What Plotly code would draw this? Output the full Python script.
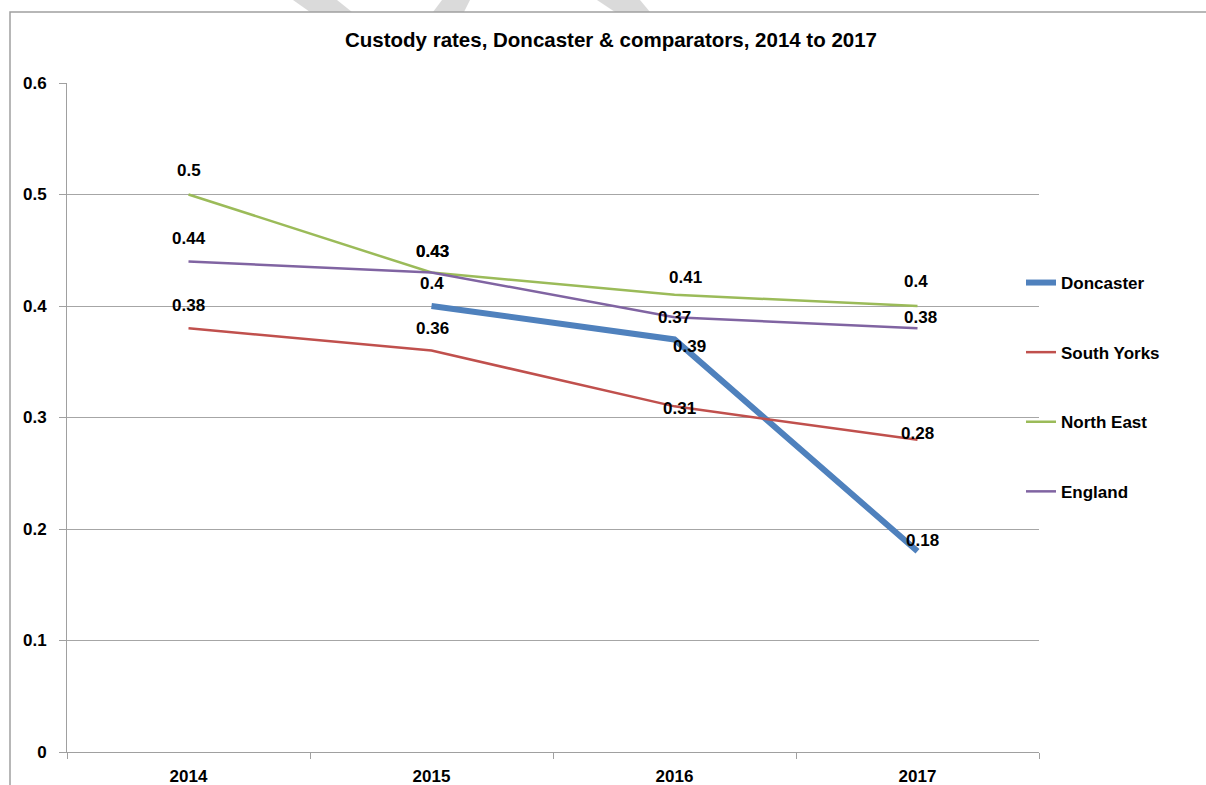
import plotly.graph_objects as go

years = ["2014", "2015", "2016", "2017"]
doncaster = [None, 0.40, 0.37, 0.18]
south_yorks = [0.38, 0.36, 0.31, 0.28]
north_east = [0.50, 0.43, 0.41, 0.40]
england = [0.44, 0.43, 0.39, 0.38]

# label text as shown in the reference (the chart shows two labels swapped at 2016)
doncaster_labels = [None, "0.4", "0.37", "0.18"]
south_yorks_labels = ["0.38", "0.36", "0.31", "0.28"]
north_east_labels = ["0.5", "0.43", "0.41", "0.4"]
england_labels = ["0.44", "0.43", "0.39", "0.38"]

OFF = 0  # page body margin removed by post_script
W, H = 1206 - OFF, 785 - OFF
L, R, T, B = 67, 1039, 83, 752  # plot area in window pixels
FONT = "Liberation Sans, Arial, sans-serif"

fig = go.Figure()
series = [
    ("Doncaster", doncaster, "#4F81BD", 6),
    ("South Yorks", south_yorks, "#C0504D", 2.5),
    ("North East", north_east, "#9BBB59", 2.5),
    ("England", england, "#8064A2", 2.5),
]
for name, vals, col, w in series:
    fig.add_trace(go.Scatter(x=years, y=vals, name=f"<b>{name}</b>", mode="lines",
                             line=dict(color=col, width=w),
                             legendgroup=name, connectgaps=False,
                             hoverinfo="x+y+name"))

# label offsets (pixels): (xshift, yshift)
offsets = {
    "Doncaster": [(0, 0), (0, 23), (0, 22), (5, 11)],
    "South Yorks": [(0, 23), (1, 22), (5, -2), (0, 6)],
    "North East": [(0, 24), (1, 21), (11, 17), (-2, 25)],
    "England": [(0, 23), (1, 21), (15, -29), (3, 11)],
}
label_sets = {
    "Doncaster": (doncaster, doncaster_labels),
    "South Yorks": (south_yorks, south_yorks_labels),
    "North East": (north_east, north_east_labels),
    "England": (england, england_labels),
}
annotations = []
for name, (vals, labs) in label_sets.items():
    for i, (v, t) in enumerate(zip(vals, labs)):
        if v is None:
            continue
        dx, dy = offsets[name][i]
        annotations.append(dict(x=i, y=v, xref="x", yref="y", text=f"<b>{t}</b>",
                                showarrow=False, xshift=dx, yshift=dy,
                                font=dict(family=FONT, size=17, color="#000000")))


def px(x, y):
    return (x - L) / (R - L), (B - y) / (B - T)


def path(points):
    s = ""
    for i, (x, y) in enumerate(points):
        xp, yp = px(x, y)
        s += ("M" if i == 0 else "L") + f"{xp:.5f},{yp:.5f} "
    return s + "Z"


shapes = []
# faint watermark fragments at the top edge
for poly in [
    [(293, 0), (337, 0), (352, 12), (310, 12)],
    [(442, 0), (470, 0), (464, 12), (433, 12)],
    [(597, 0), (640, 0), (650, 12), (615, 12)],
]:
    shapes.append(dict(type="path", xref="paper", yref="paper", path=path(poly),
                       fillcolor="#DADADA", line=dict(width=0), layer="below"))
# outer chart border (left and top edges visible)
x0, y0 = px(10, 800)
x1, y1 = px(1215, 12)
shapes.append(dict(type="rect", xref="paper", yref="paper", x0=x0, y0=y0, x1=x1, y1=y1,
                   line=dict(color="#A0A0A0", width=1.5), fillcolor="rgba(0,0,0,0)",
                   layer="below"))

lx, ly = px(1021, 265)
fig.update_layout(
    width=W, height=H, autosize=False,
    margin=dict(l=L - OFF, r=W - (R - OFF), t=T - OFF, b=H - (B - OFF), pad=0,
                autoexpand=False),
    paper_bgcolor="white", plot_bgcolor="white",
    font=dict(family=FONT, size=17, color="#000000"),
    title=dict(text="<b>Custody rates, Doncaster & comparators, 2014 to 2017</b>",
               x=(611 - OFF) / W, xref="container", xanchor="center",
               y=1 - (40 - OFF) / H, yref="container", yanchor="middle",
               font=dict(family=FONT, size=20.5, color="#000000")),
    xaxis=dict(type="category", range=[-0.5, 3.5], showgrid=False, automargin=False,
               showline=True, linecolor="#A0A0A0", linewidth=1,
               ticks="outside", tickson="boundaries", ticklen=6, tickcolor="#A0A0A0",
               tickfont=dict(family=FONT, size=17, color="#000000"),
               ticklabelstandoff=9, zeroline=False,
               tickvals=years, ticktext=[f"<b>{y}</b>" for y in years]),
    yaxis=dict(range=[0, 0.6], dtick=0.1, tick0=0, showgrid=True, gridcolor="#A6A6A6",
               gridwidth=1, showline=True, linecolor="#A0A0A0", linewidth=1,
               ticks="outside", ticklen=7, tickcolor="#A0A0A0", zeroline=False,
               automargin=False,
               tickvals=[0, 0.1, 0.2, 0.3, 0.4, 0.5, 0.6],
               ticktext=["<b>0</b>", "<b>0.1</b>", "<b>0.2</b>", "<b>0.3</b>",
                         "<b>0.4</b>", "<b>0.5</b>", "<b>0.6</b>"],
               tickfont=dict(family=FONT, size=17, color="#000000"),
               ticklabelstandoff=9),
    legend=dict(x=lx, y=ly, xanchor="left", yanchor="top",
                traceorder="grouped", tracegroupgap=44.5,
                font=dict(family=FONT, size=17, color="#000000"),
                bgcolor="rgba(0,0,0,0)", itemwidth=30),
    showlegend=True,
    annotations=annotations,
    shapes=shapes,
)

fig.write_html("out.html",
               config={"displayModeBar": False},
               post_script="document.body.style.margin='0px';"
                           "document.body.style.overflow='hidden';")
